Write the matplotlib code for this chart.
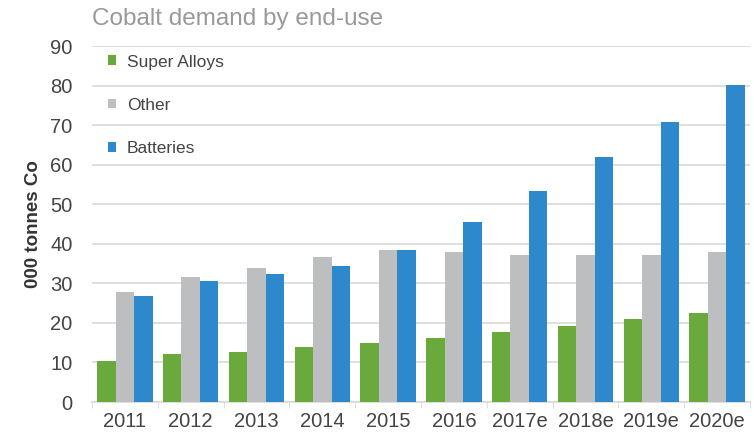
import matplotlib.pyplot as plt
import numpy as np

years = ["2011", "2012", "2013", "2014", "2015", "2016", "2017e", "2018e", "2019e", "2020e"]
super_alloys = [10.4, 12.1, 12.7, 13.8, 14.8, 16.1, 17.6, 19.3, 21.0, 22.5]
other = [27.9, 31.7, 33.9, 36.7, 38.4, 37.9, 37.2, 37.2, 37.2, 37.9]
batteries = [26.7, 30.6, 32.3, 34.4, 38.4, 45.4, 53.3, 62.0, 70.8, 80.1]

green = "#6aa93b"
grey = "#bdbebf"
blue = "#2d88cc"

plt.rcParams['font.family'] = ['Liberation Sans', 'DejaVu Sans']

fig = plt.figure(figsize=(7.54, 4.33), dpi=100)
ax = fig.add_axes([92/754, 31/433, 658/754, 356/433])

x = np.arange(len(years))
w = 0.28
ax.bar(x - w, super_alloys, w, color=green, label="Super Alloys", zorder=3)
ax.bar(x, other, w, color=grey, label="Other", zorder=3)
ax.bar(x + w, batteries, w, color=blue, label="Batteries", zorder=3)

ax.set_xlim(-0.5, len(years) - 0.5)
ax.set_ylim(0, 90)
ax.set_yticks(range(0, 91, 10))
ax.yaxis.grid(True, color="#d9d9d9", linewidth=1.2, zorder=0)

ax.set_xticks(x)
ax.set_xticklabels(years)
ax.set_xticks(np.arange(-0.5, len(years)), minor=True)
ax.tick_params(axis="x", which="major", length=0, labelsize=14.5, colors="#444444", pad=7)
ax.tick_params(axis="x", which="minor", length=4, color="#d9d9d9")
ax.tick_params(axis="y", length=0, labelsize=14.5, colors="#444444", pad=14)

for s in ["top", "right", "left"]:
    ax.spines[s].set_visible(False)
ax.spines["bottom"].set_color("#d9d9d9")
ax.spines["bottom"].set_linewidth(1.2)

ax.set_ylabel("000 tonnes Co", fontsize=13.5, fontweight="bold", color="#333333", labelpad=6)

leg = ax.legend(loc="upper left", bbox_to_anchor=(0.0, 1.02), frameon=False,
                fontsize=12.5, handlelength=0.5, handleheight=0.5,
                labelspacing=1.62, handletextpad=0.6)
for t in leg.get_texts():
    t.set_color("#444444")

fig.text(92/754, 1 - 19/433, "Cobalt demand by end-use", fontsize=17.5,
         color="#999999", va="center", ha="left")

fig.savefig("out.png", dpi=100)
